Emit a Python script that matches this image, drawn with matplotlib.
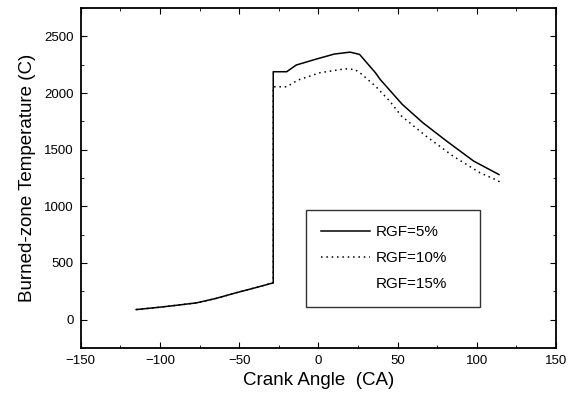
import matplotlib.pyplot as plt
from matplotlib.ticker import MultipleLocator

plt.rcParams['font.family'] = ['Liberation Sans', 'DejaVu Sans']

# crank angle / temperature
ca_5 = [-115, -100, -90, -77, -65, -52, -40, -28.5, -28.5, -20, -14, -2, 10, 20, 26, 36, 39, 53, 66, 81, 98, 114]
temp_5 = [88, 109, 125, 147, 185, 236, 280, 324, 2188, 2188, 2247, 2297, 2344, 2361, 2341, 2179, 2120, 1899, 1737, 1575, 1399, 1280]

ca_10 = [-115, -100, -90, -77, -65, -52, -40, -28.5, -28.5, -20, -13, 1, 17, 23, 27, 36, 45, 52.5, 68, 85, 102, 111.5, 115]
temp_10 = [88, 109, 125, 147, 185, 236, 280, 324, 2055, 2055, 2114, 2179, 2214, 2208, 2170, 2061, 1929, 1796, 1619, 1443, 1296, 1237, 1212]

labels = ['RGF=5%', 'RGF=10%', 'RGF=15%']

fig = plt.figure(figsize=(5.81, 4.04), dpi=100)
ax = fig.add_axes([0.139, 0.139, 0.818, 0.841])

ax.plot(ca_5, temp_5, color='black', lw=1.1, label=labels[0])
ax.plot(ca_10, temp_10, color='black', lw=1.1, linestyle=(0, (1, 2.5)), label=labels[1])
# third case is not visible in the original
ax.plot([], [], linestyle='none', label=labels[2])

ax.set_xlim(-150, 150)
ax.set_ylim(-250, 2750)
ax.xaxis.set_major_locator(MultipleLocator(50))
ax.xaxis.set_minor_locator(MultipleLocator(25))
ax.yaxis.set_major_locator(MultipleLocator(500))
ax.yaxis.set_minor_locator(MultipleLocator(250))
ax.tick_params(which='both', direction='in', top=True, right=True, labelsize=9.5)
ax.tick_params(which='major', length=4, pad=5)
ax.tick_params(which='minor', length=2.5)
for s in ax.spines.values():
    s.set_linewidth(1.3)

ax.set_xlabel('Crank Angle  (CA)', fontsize=13.5, labelpad=4)
ax.set_ylabel('Burned-zone Temperature (C)', fontsize=13.5, labelpad=6)

leg = ax.legend(loc='lower left', bbox_to_anchor=(0.474, 0.121, 0.366, 0.27), mode='expand',
                fontsize=11, frameon=True, fancybox=False, edgecolor='black',
                handlelength=3.2, handletextpad=0.35, labelspacing=0.8,
                borderpad=1.0, borderaxespad=0)
leg.get_frame().set_linewidth(1.0)

fig.savefig('out.png', dpi=100)
